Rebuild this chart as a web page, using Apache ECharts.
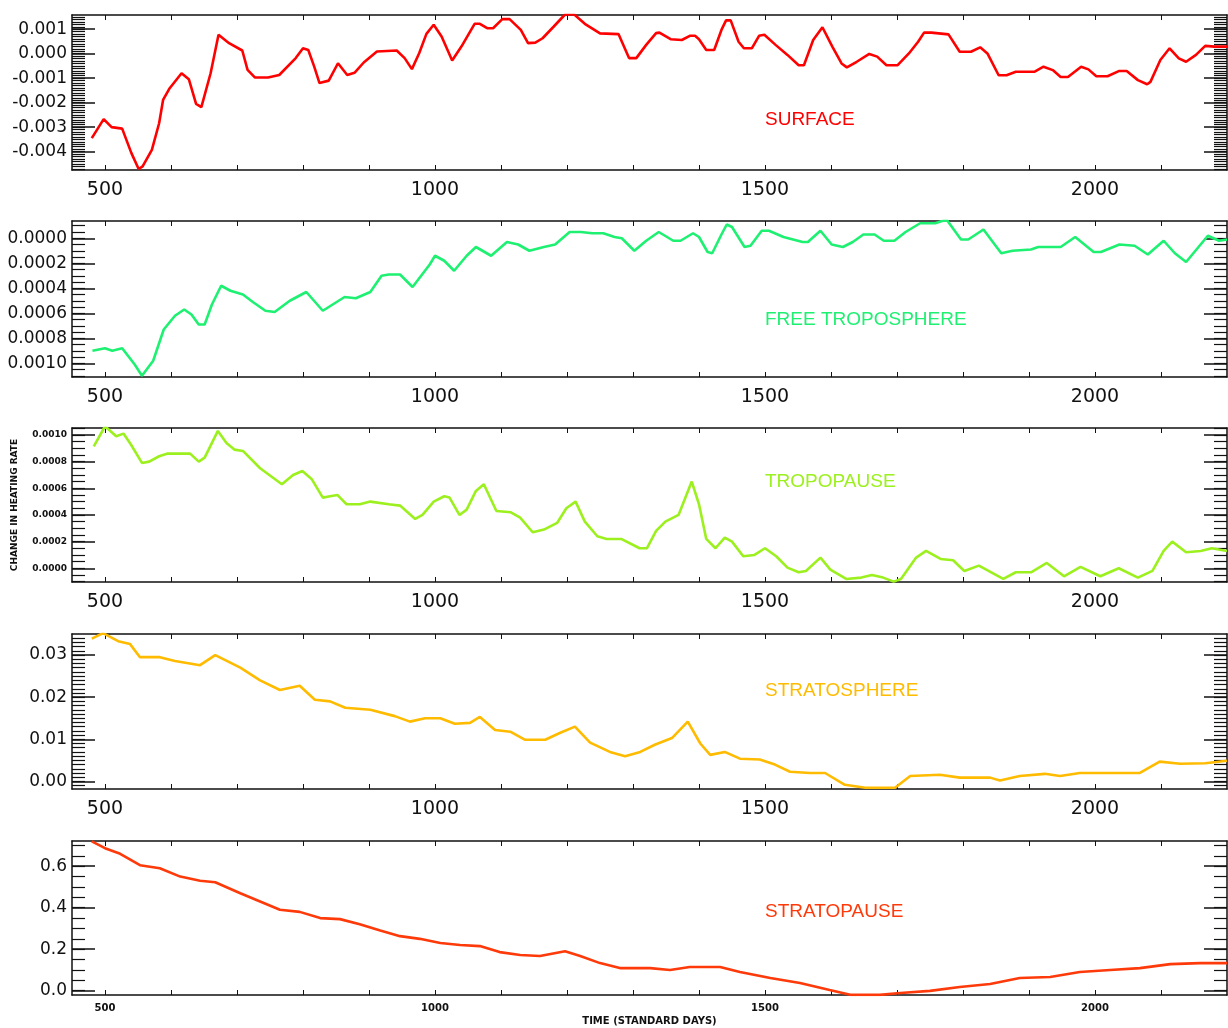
<!DOCTYPE html>
<html>
<head>
<meta charset="utf-8">
<title>Change in heating rate by layer</title>
<script src="https://cdn.jsdelivr.net/npm/echarts@6/dist/echarts.min.js"></script>
<style>
  html, body { margin: 0; padding: 0; background: #fff; }
  #chart { width: 1228px; height: 1028px; }
</style>
</head>
<body>
<div id="chart"></div>
<script>
// Time axis (standard days)
const xLabelDays = [500, 1000, 1500, 2000];

// Series: [day, change in heating rate]
const surface = [[480,-0.00345],[498,-0.00267],[510,-0.0030],[526,-0.00306],[540,-0.00406],[551,-0.00471],[557,-0.0046],[571,-0.00393],[582,-0.00284],[588,-0.00189],[598,-0.00141],[616,-0.0008],[627,-0.00104],[638,-0.00205],[646,-0.00218],[660,-0.0008],[672,0.00077],[688,0.00043],[708,0.00013],[716,-0.00066],[727,-0.00097],[747,-0.00097],[764,-0.00087],[789,-0.00018],[800,0.00022],[808,0.00015],[817,-0.00053],[825,-0.0012],[839,-0.0011],[853,-0.00039],[867,-0.00087],[878,-0.00078],[892,-0.00036],[912,0.00009],[942,0.00013],[954,-0.00018],[965,-0.00063],[976,0.00002],[987,0.00081],[998,0.00118],[1010,0.0007],[1026,-0.00028],[1040,0.00029],[1060,0.00122],[1068,0.00122],[1079,0.00104],[1088,0.00104],[1102,0.00141],[1113,0.00141],[1130,0.00097],[1141,0.00043],[1152,0.00045],[1163,0.00063],[1180,0.00111],[1197,0.0016],[1211,0.0016],[1227,0.00122],[1250,0.00083],[1278,0.0008],[1294,-0.00018],[1305,-0.00018],[1320,0.00036],[1335,0.00084],[1340,0.00086],[1357,0.00059],[1374,0.00056],[1386,0.00073],[1394,0.00073],[1400,0.00059],[1411,0.00015],[1423,0.00015],[1434,0.00097],[1441,0.00136],[1448,0.00136],[1460,0.00049],[1468,0.00022],[1480,0.00022],[1491,0.00073],[1499,0.00077],[1516,0.00036],[1534,-0.00005],[1551,-0.00047],[1559,-0.00047],[1573,0.00056],[1587,0.00108],[1602,0.00029],[1616,-0.0004],[1624,-0.00056],[1639,-0.00033],[1658,-0.00001],[1670,-0.00012],[1684,-0.00047],[1701,-0.00047],[1718,0.00001],[1732,0.00049],[1741,0.00086],[1752,0.00086],[1778,0.00079],[1795,0.00008],[1812,0.00008],[1826,0.00026],[1837,0.00001],[1854,-0.00088],[1866,-0.00088],[1880,-0.00074],[1908,-0.00074],[1922,-0.00053],[1936,-0.00067],[1948,-0.00095],[1959,-0.00095],[1979,-0.00053],[1990,-0.00064],[2002,-0.00092],[2019,-0.00092],[2036,-0.00071],[2048,-0.00071],[2065,-0.00108],[2079,-0.00125],[2084,-0.00115],[2099,-0.00026],[2113,0.00022],[2127,-0.00019],[2138,-0.00033],[2153,-0.00005],[2167,0.00032],[2181,0.00029],[2200,0.00029]];

const freeTroposphere = [[481,-0.00090],[500,-0.00088],[511,-0.00090],[526,-0.00088],[545,-0.00101],[556,-0.00110],[573,-0.00098],[589,-0.00073],[606,-0.00062],[620,-0.00057],[631,-0.00061],[642,-0.00069],[651,-0.00069],[662,-0.00053],[676,-0.00038],[690,-0.00042],[709,-0.00045],[724,-0.00051],[743,-0.00058],[757,-0.00059],[780,-0.00050],[805,-0.00043],[830,-0.00058],[863,-0.00047],[880,-0.00048],[902,-0.00043],[919,-0.00030],[930,-0.00029],[947,-0.00029],[966,-0.00039],[992,-0.00021],[1000,-0.00014],[1014,-0.00018],[1029,-0.00026],[1048,-0.00014],[1062,-0.00007],[1085,-0.00014],[1109,-0.00003],[1126,-0.00005],[1143,-0.00010],[1165,-0.00007],[1182,-0.00005],[1204,0.00005],[1221,0.00005],[1238,0.00004],[1255,0.00004],[1272,0.00001],[1283,0],[1302,-0.00010],[1320,-0.00002],[1339,0.00005],[1361,-0.00002],[1372,-0.00002],[1391,0.00004],[1400,0.00001],[1413,-0.00011],[1420,-0.00012],[1434,0.00003],[1442,0.00011],[1450,0.00009],[1469,-0.00007],[1478,-0.00006],[1495,0.00006],[1506,0.00006],[1528,0.00001],[1557,-0.00003],[1565,-0.00003],[1584,0.00006],[1601,-0.00005],[1618,-0.00007],[1633,-0.00003],[1649,0.00003],[1666,0.00003],[1680,-0.00002],[1696,-0.00002],[1713,0.00005],[1735,0.00012],[1758,0.00012],[1775,0.00015],[1786,0.00007],[1797,-0.00001],[1808,-0.00001],[1831,0.00007],[1858,-0.00012],[1875,-0.00010],[1903,-0.00009],[1914,-0.00007],[1948,-0.00007],[1970,0.00001],[1998,-0.00011],[2009,-0.00011],[2037,-0.00005],[2060,-0.00006],[2080,-0.00013],[2104,-0.00002],[2121,-0.00012],[2138,-0.00019],[2171,0.00002],[2188,-0.00002],[2200,-0.00001]];

const tropopause = [[483,0.000915],[500,0.001065],[517,0.00099],[528,0.00101],[539,0.00093],[556,0.00079],[567,0.00080],[582,0.00084],[595,0.00086],[629,0.00086],[642,0.00080],[651,0.00083],[671,0.00103],[684,0.00094],[696,0.00089],[709,0.00088],[735,0.00075],[768,0.00063],[785,0.00070],[799,0.00073],[813,0.00067],[830,0.00053],[841,0.00054],[852,0.00055],[866,0.00048],[886,0.00048],[902,0.00050],[930,0.00048],[947,0.00047],[970,0.00037],[981,0.00040],[998,0.00050],[1014,0.00054],[1022,0.00053],[1037,0.00040],[1048,0.00044],[1062,0.00058],[1074,0.00063],[1093,0.00043],[1115,0.00042],[1129,0.00038],[1148,0.00027],[1165,0.00029],[1185,0.00034],[1199,0.00045],[1213,0.00050],[1227,0.00035],[1246,0.00024],[1260,0.00022],[1282,0.00022],[1310,0.00015],[1321,0.00015],[1335,0.00028],[1349,0.00035],[1369,0.00040],[1389,0.00065],[1400,0.00048],[1411,0.00022],[1425,0.00015],[1439,0.00023],[1450,0.00020],[1467,0.00009],[1484,0.00010],[1500,0.00015],[1517,0.00009],[1534,0.000005],[1551,-0.00003],[1562,-0.00002],[1584,0.00008],[1599,-0.00001],[1623,-0.00008],[1646,-0.00007],[1662,-0.00005],[1679,-0.00007],[1695,-0.00010],[1706,-0.00008],[1729,0.00008],[1744,0.00013],[1766,0.00007],[1785,0.00006],[1802,-0.00002],[1824,0.00002],[1861,-0.00008],[1880,-0.00003],[1903,-0.00003],[1927,0.00004],[1953,-0.00006],[1978,0.00001],[2008,-0.00006],[2036,0],[2065,-0.00007],[2087,-0.00002],[2104,0.00013],[2117,0.00020],[2138,0.00012],[2160,0.00013],[2177,0.00015],[2200,0.00013]];

const stratosphere = [[480,0.0339],[497,0.0352],[520,0.0333],[538,0.0326],[553,0.0295],[583,0.0295],[606,0.0286],[644,0.0276],[667,0.0300],[705,0.0270],[735,0.0240],[765,0.0217],[795,0.0227],[818,0.0194],[841,0.0190],[864,0.0175],[902,0.0170],[939,0.0155],[962,0.0142],[985,0.0150],[1008,0.0150],[1030,0.0137],[1053,0.0139],[1068,0.0153],[1091,0.0122],[1114,0.0118],[1136,0.0099],[1167,0.0099],[1189,0.0115],[1212,0.0130],[1235,0.0092],[1265,0.0070],[1288,0.0060],[1311,0.0070],[1333,0.0087],[1359,0.0103],[1383,0.0142],[1402,0.0090],[1417,0.0063],[1439,0.0070],[1462,0.0054],[1492,0.0052],[1515,0.0040],[1538,0.0023],[1568,0.0020],[1591,0.0020],[1621,-0.0008],[1652,-0.0015],[1697,-0.0015],[1720,0.0013],[1765,0.0016],[1795,0.0009],[1841,0.0009],[1856,0.0002],[1886,0.0013],[1924,0.0018],[1947,0.0013],[1977,0.0020],[2008,0.0020],[2038,0.0020],[2068,0.0020],[2098,0.0047],[2129,0.0042],[2167,0.0043],[2200,0.0049]];

const stratopause = [[480,0.72],[500,0.687],[523,0.66],[553,0.605],[583,0.59],[614,0.55],[644,0.53],[667,0.523],[705,0.47],[735,0.43],[765,0.39],[795,0.38],[826,0.35],[856,0.345],[886,0.32],[917,0.29],[947,0.263],[977,0.25],[1008,0.23],[1038,0.22],[1068,0.215],[1098,0.186],[1129,0.172],[1159,0.167],[1197,0.19],[1220,0.167],[1250,0.133],[1280,0.109],[1326,0.109],[1356,0.1],[1386,0.114],[1432,0.114],[1462,0.09],[1508,0.061],[1553,0.037],[1598,0.003],[1629,-0.02],[1674,-0.02],[1705,-0.011],[1750,-0.001],[1795,0.018],[1841,0.032],[1886,0.061],[1932,0.066],[1977,0.09],[2023,0.1],[2068,0.109],[2114,0.128],[2159,0.133],[2200,0.133]];

// Labelled y ticks per panel
const surfaceTicks = [-0.004, -0.003, -0.002, -0.001, 0, 0.001];
const freeTropTicks = [-0.0010, -0.0008, -0.0006, -0.0004, -0.0002, 0];
const tropopauseTicks = [0, 0.0002, 0.0004, 0.0006, 0.0008, 0.0010];
const stratosphereTicks = [0, 0.01, 0.02, 0.03];
const stratopauseTicks = [0, 0.2, 0.4, 0.6];

function steps(from, to, step) {
  const out = [];
  const n = Math.round((to - from) / step);
  for (let i = 0; i <= n; i++) out.push(+(from + i * step).toPrecision(10));
  return out;
}

const xMinorTicks = steps(500, 2100, 100);
const INK = '#111';
const AXIS_LINE = { show: true, onZero: false, lineStyle: { color: INK, width: 1.5 } };

const panels = [
  { name: 'SURFACE', data: surface, color: '#ff0000', min: -0.00475, max: 0.00158,
    ticks: surfaceTicks, minor: steps(-0.0047, 0.0015, 0.0001), fmt: v => v.toFixed(3),
    top: 15, height: 155, textY: 120 },
  { name: 'FREE TROPOSPHERE', data: freeTroposphere, color: '#1ef072', min: -0.00111, max: 0.000138,
    ticks: freeTropTicks, minor: steps(-0.0011, 0.0001, 0.00005), fmt: v => Math.abs(v).toFixed(4),
    top: 221, height: 156, textY: 320 },
  { name: 'TROPOPAUSE', data: tropopause, color: '#9cf01e', min: -0.000103, max: 0.001052,
    ticks: tropopauseTicks, minor: steps(-0.0001, 0.00105, 0.00005), fmt: v => v.toFixed(4),
    top: 428, height: 154, textY: 482, small: true },
  { name: 'STRATOSPHERE', data: stratosphere, color: '#ffbb00', min: -0.0018, max: 0.035,
    ticks: stratosphereTicks, minor: steps(-0.001, 0.034, 0.001), fmt: v => v.toFixed(2),
    top: 634, height: 155, textY: 691 },
  { name: 'STRATOPAUSE', data: stratopause, color: '#ff3a0a', min: -0.0207, max: 0.7216,
    ticks: stratopauseTicks, minor: steps(0, 0.7, 0.05), fmt: v => v.toFixed(1),
    top: 841, height: 154, textY: 912, smallX: true }
];

const grid = [], xAxis = [], yAxis = [], series = [], graphic = [];

panels.forEach((p, i) => {
  grid.push({ left: 72, width: 1155, top: p.top, height: p.height });

  const last = i === panels.length - 1;
  xAxis.push({
    type: 'value', gridIndex: i, position: 'bottom', min: 450, max: 2200,
    axisLine: AXIS_LINE,
    axisTick: { show: true, inside: true, length: 5, customValues: xMinorTicks, lineStyle: { color: INK, width: 1 } },
    axisLabel: {
      customValues: xLabelDays, color: INK,
      formatter: v => String(v),
      fontFamily: 'DejaVu Sans',
      fontSize: p.smallX ? 10 : 19,
      fontWeight: p.smallX ? 'bold' : 'normal',
      margin: p.smallX ? 8 : 11
    },
    splitLine: { show: false },
    name: last ? 'TIME (STANDARD DAYS)' : '',
    nameLocation: 'middle', nameGap: 21,
    nameTextStyle: { color: INK, fontFamily: 'DejaVu Sans', fontSize: 10, fontWeight: 'bold' }
  });
  xAxis.push({
    type: 'value', gridIndex: i, position: 'top', min: 450, max: 2200,
    axisLine: AXIS_LINE,
    axisTick: { show: true, inside: true, length: 5, customValues: xMinorTicks, lineStyle: { color: INK, width: 1 } },
    axisLabel: { show: false }, splitLine: { show: false }
  });

  ['left', 'right'].forEach(side => {
    yAxis.push({
      type: 'value', gridIndex: i, position: side, min: p.min, max: p.max,
      axisLine: AXIS_LINE,
      axisTick: { show: true, inside: true, length: 23, customValues: p.ticks, lineStyle: { color: INK, width: 1.5 } },
      axisLabel: side === 'left' ? {
        customValues: p.ticks, formatter: p.fmt, color: INK, margin: 5,
        fontFamily: 'DejaVu Sans',
        fontSize: p.small ? 9 : 17,
        fontWeight: p.small ? 'bold' : 'normal'
      } : { show: false },
      splitLine: { show: false },
      name: (side === 'left' && p.small) ? 'CHANGE IN HEATING RATE' : '',
      nameLocation: 'middle', nameRotate: 90, nameGap: 53,
      nameTextStyle: { color: INK, fontFamily: 'DejaVu Sans', fontSize: 9, fontWeight: 'bold' }
    });
    yAxis.push({
      type: 'value', gridIndex: i, position: side, min: p.min, max: p.max,
      axisLine: { show: false, onZero: false },
      axisTick: { show: true, inside: true, length: 13, customValues: p.minor, lineStyle: { color: INK, width: 1.2 } },
      axisLabel: { show: false }, splitLine: { show: false }
    });
  });

  series.push({
    type: 'line', name: p.name, data: p.data,
    xAxisIndex: 2 * i, yAxisIndex: 4 * i,
    showSymbol: false, symbol: 'none', clip: true,
    lineStyle: { color: p.color, width: 2.6 }
  });

  graphic.push({
    type: 'text', left: 765, top: p.textY - 10,
    style: { text: p.name, fill: p.color, fontFamily: 'Liberation Sans, sans-serif', fontSize: 19 }
  });
});

const chart = echarts.init(document.getElementById('chart'), null, { renderer: 'canvas' });
chart.setOption({
  animation: false,
  backgroundColor: '#fff',
  grid, xAxis, yAxis, series, graphic
});
</script>
</body>
</html>
